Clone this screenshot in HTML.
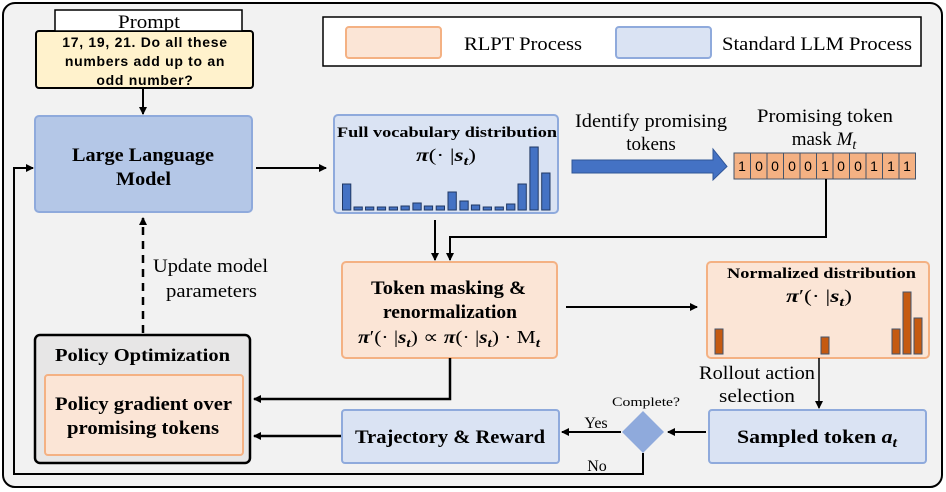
<!DOCTYPE html>
<html><head><meta charset="utf-8"><style>
html,body{margin:0;padding:0;background:#fff;}
svg{display:block;}
.s{font-family:"Liberation Serif",serif;}
.b{font-family:"Liberation Serif",serif;font-weight:bold;}
</style></head><body>
<svg width="946" height="492" viewBox="0 0 946 492" xmlns="http://www.w3.org/2000/svg">
<defs>
<marker id="a" markerWidth="8" markerHeight="8" refX="7" refY="4" orient="auto" markerUnits="userSpaceOnUse"><path d="M0,0 L8,4 L0,8 z" fill="#000"/></marker>
</defs>
<rect x="3" y="3" width="939" height="484" rx="12" fill="#f2f2f2" stroke="#000" stroke-width="2"/>
<!-- legend -->
<rect x="323" y="17" width="598" height="49" fill="#fff" stroke="#000" stroke-width="1.5"/>
<rect x="346" y="27" width="95" height="31" rx="3" fill="#fbe5d6" stroke="#f4b183" stroke-width="2"/>
<text x="464" y="50" class="s" font-size="19" textLength="118" lengthAdjust="spacingAndGlyphs">RLPT Process</text>
<rect x="616" y="27" width="95" height="31" rx="3" fill="#dae3f3" stroke="#8faadc" stroke-width="2"/>
<text x="722" y="50" class="s" font-size="19" textLength="190" lengthAdjust="spacingAndGlyphs">Standard LLM Process</text>
<!-- prompt -->
<rect x="36" y="31" width="217" height="57" rx="3" fill="#fff2cc" stroke="#000" stroke-width="2"/>
<rect x="55" y="10" width="187" height="21" fill="#fff" stroke="#000" stroke-width="1.5"/>
<text x="118" y="28" class="s" font-size="19" textLength="62" lengthAdjust="spacingAndGlyphs">Prompt</text>
<g font-family="Liberation Sans,sans-serif" font-weight="bold" font-size="14" text-anchor="middle" letter-spacing="0.7">
<text x="145" y="47">17, 19, 21. Do all these</text>
<text x="145" y="66">numbers add up to an</text>
<text x="145" y="85">odd number?</text>
</g>
<line x1="143" y1="88" x2="143" y2="114" stroke="#000" stroke-width="2" marker-end="url(#a)"/>
<!-- LLM -->
<rect x="35" y="116" width="217" height="96" rx="4" fill="#b4c7e7" stroke="#8faadc" stroke-width="2"/>
<text x="72" y="161" class="b" font-size="19" textLength="142" lengthAdjust="spacingAndGlyphs">Large Language</text>
<text x="116" y="185" class="b" font-size="19" textLength="55" lengthAdjust="spacingAndGlyphs">Model</text>
<line x1="256" y1="168" x2="326" y2="168" stroke="#000" stroke-width="2" marker-end="url(#a)"/>
<!-- full vocab -->
<rect x="334" y="115" width="224" height="98" rx="4" fill="#dae3f3" stroke="#8faadc" stroke-width="2"/>
<text x="337" y="137" class="b" font-size="15" textLength="220" lengthAdjust="spacingAndGlyphs">Full vocabulary distribution</text>
<text x="416" y="161" class="b" font-size="18" font-style="italic" textLength="60" lengthAdjust="spacingAndGlyphs">π<tspan font-style="normal" font-weight="normal">(· |</tspan>s<tspan font-size="13" dy="4">t</tspan><tspan dy="-4" font-style="normal" font-weight="normal">)</tspan></text>
<g fill="#4472c4" stroke="#203864" stroke-width="1">
<rect x="342.5" y="184" width="8.3" height="26"/>
<rect x="354" y="207" width="8.3" height="3"/>
<rect x="365.5" y="207" width="8.3" height="3"/>
<rect x="377.3" y="207" width="8.3" height="3"/>
<rect x="389.2" y="207" width="8.3" height="3"/>
<rect x="401" y="206" width="8.3" height="4"/>
<rect x="412.9" y="203" width="8.3" height="7"/>
<rect x="424.3" y="206" width="8.3" height="4"/>
<rect x="436.2" y="206" width="8.3" height="4"/>
<rect x="448" y="192" width="8.3" height="18"/>
<rect x="459.9" y="201" width="8.3" height="9"/>
<rect x="471.4" y="205" width="8.3" height="5"/>
<rect x="483.2" y="207" width="8.3" height="3"/>
<rect x="495.1" y="207" width="8.3" height="3"/>
<rect x="506.6" y="204" width="8.3" height="6"/>
<rect x="518" y="184" width="8.3" height="26"/>
<rect x="529.9" y="147" width="8.3" height="63"/>
<rect x="541.7" y="173" width="8.3" height="37"/>
</g>
<!-- blue arrow -->
<path d="M572,160 L713,160 L713,149 L727,166.5 L713,180 L713,173 L572,173 z" fill="#4472c4" stroke="#2f5597" stroke-width="1"/>
<text x="575" y="127" class="s" font-size="19" textLength="152" lengthAdjust="spacingAndGlyphs">Identify promising</text>
<text x="651" y="150" class="s" font-size="19" text-anchor="middle">tokens</text>
<text x="757" y="122" class="s" font-size="19" textLength="136" lengthAdjust="spacingAndGlyphs">Promising token</text>
<text x="824" y="145" class="s" font-size="19" text-anchor="middle">mask <tspan font-style="italic">M</tspan><tspan font-style="italic" font-size="14" dy="4">t</tspan></text>
<g font-family="Liberation Sans,sans-serif" font-size="14" text-anchor="middle">
<g fill="#f4b183" stroke="#44546a" stroke-width="1">
<rect x="734" y="153" width="16.5" height="26"/><rect x="750.5" y="153" width="16.5" height="26"/><rect x="767" y="153" width="16.5" height="26"/><rect x="783.5" y="153" width="16.5" height="26"/><rect x="800" y="153" width="16.5" height="26"/><rect x="816.5" y="153" width="16.5" height="26"/><rect x="833" y="153" width="16.5" height="26"/><rect x="849.5" y="153" width="16.5" height="26"/><rect x="866" y="153" width="16.5" height="26"/><rect x="882.5" y="153" width="16.5" height="26"/><rect x="899" y="153" width="16.5" height="26"/>
</g>
<text x="742" y="171">1</text><text x="759" y="171">0</text><text x="775" y="171">0</text><text x="792" y="171">0</text><text x="808" y="171">0</text><text x="825" y="171">1</text><text x="841" y="171">0</text><text x="858" y="171">0</text><text x="874" y="171">1</text><text x="891" y="171">1</text><text x="907" y="171">1</text>
</g>
<!-- connectors to masking -->
<path d="M826,179 L826,237 L450,237 L450,260" fill="none" stroke="#000" stroke-width="2" marker-end="url(#a)"/>
<line x1="435" y1="220" x2="435" y2="260" stroke="#000" stroke-width="2" marker-end="url(#a)"/>
<!-- token masking -->
<rect x="342" y="262" width="215" height="96" rx="4" fill="#fbe5d6" stroke="#f4b183" stroke-width="2"/>
<text x="371" y="294" class="b" font-size="19" textLength="155" lengthAdjust="spacingAndGlyphs">Token masking &amp;</text>
<text x="383" y="318" class="b" font-size="19" textLength="134" lengthAdjust="spacingAndGlyphs">renormalization</text>
<text x="358" y="343" class="b" font-size="18" font-style="italic" textLength="182" lengthAdjust="spacingAndGlyphs">π<tspan font-style="normal" font-weight="normal">′(· |</tspan>s<tspan font-size="13" dy="4">t</tspan><tspan dy="-4" font-style="normal" font-weight="normal">) ∝ </tspan>π<tspan font-style="normal" font-weight="normal">(· |</tspan>s<tspan font-size="13" dy="4">t</tspan><tspan dy="-4" font-style="normal" font-weight="normal">) · M</tspan><tspan font-size="13" dy="4">t</tspan></text>
<line x1="566" y1="307" x2="697" y2="307" stroke="#000" stroke-width="2" marker-end="url(#a)"/>
<!-- normalized -->
<rect x="707" y="262" width="222" height="96" rx="4" fill="#fbe5d6" stroke="#f4b183" stroke-width="2"/>
<text x="727" y="278" class="b" font-size="15" textLength="189" lengthAdjust="spacingAndGlyphs">Normalized distribution</text>
<text x="786" y="302" class="b" font-size="18" font-style="italic" textLength="66" lengthAdjust="spacingAndGlyphs">π<tspan font-style="normal" font-weight="normal">′(· |</tspan>s<tspan font-size="13" dy="4">t</tspan><tspan dy="-4" font-style="normal" font-weight="normal">)</tspan></text>
<g fill="#c55a11" stroke="#44546a" stroke-width="1">
<rect x="715" y="329" width="8" height="25"/>
<rect x="821" y="337" width="8" height="17"/>
<rect x="892" y="329" width="8" height="25"/>
<rect x="903" y="292" width="8" height="62"/>
<rect x="914" y="318" width="8" height="36"/>
</g>
<line x1="819" y1="358" x2="819" y2="408" stroke="#000" stroke-width="1.5" marker-end="url(#a)"/>
<text x="699" y="379" class="s" font-size="19" textLength="116" lengthAdjust="spacingAndGlyphs">Rollout action</text>
<text x="719" y="402" class="s" font-size="19" textLength="76" lengthAdjust="spacingAndGlyphs">selection</text>
<!-- sampled token -->
<rect x="709" y="410" width="217" height="53" rx="3" fill="#dae3f3" stroke="#8faadc" stroke-width="2"/>
<text x="737" y="443" class="b" font-size="19" textLength="160" lengthAdjust="spacingAndGlyphs">Sampled token <tspan font-style="italic">a</tspan><tspan font-style="italic" font-size="14" dy="4">t</tspan></text>
<line x1="706" y1="432" x2="668" y2="432" stroke="#000" stroke-width="2" marker-end="url(#a)"/>
<path d="M643,411 L664,432 L643,453 L622,432 z" fill="#8faadc"/>
<text x="612" y="406" class="s" font-size="13" textLength="68" lengthAdjust="spacingAndGlyphs">Complete?</text>
<line x1="621" y1="432" x2="562" y2="432" stroke="#000" stroke-width="2" marker-end="url(#a)"/>
<text x="596" y="428" class="s" font-size="16" text-anchor="middle">Yes</text>
<text x="597" y="471" class="s" font-size="16" text-anchor="middle">No</text>
<path d="M643,453 L643,474 L14,474 L14,168 L33,168" fill="none" stroke="#000" stroke-width="2" marker-end="url(#a)"/>
<!-- trajectory -->
<rect x="342" y="410" width="217" height="53" rx="3" fill="#dae3f3" stroke="#8faadc" stroke-width="2"/>
<text x="355" y="443" class="b" font-size="19" textLength="190" lengthAdjust="spacingAndGlyphs">Trajectory &amp; Reward</text>
<line x1="341" y1="436" x2="254" y2="436" stroke="#000" stroke-width="2.5" marker-end="url(#a)"/>
<path d="M450,358 L450,399 L254,399" fill="none" stroke="#000" stroke-width="2.5" marker-end="url(#a)"/>
<!-- policy optimization -->
<rect x="35" y="335" width="215" height="128" rx="5" fill="#e7e6e6" stroke="#000" stroke-width="2.5"/>
<text x="55" y="361" class="b" font-size="18" textLength="175" lengthAdjust="spacingAndGlyphs">Policy Optimization</text>
<rect x="45" y="375" width="198" height="80" rx="3" fill="#fbe5d6" stroke="#f4b183" stroke-width="2"/>
<text x="55" y="410" class="b" font-size="19" textLength="177" lengthAdjust="spacingAndGlyphs">Policy gradient over</text>
<text x="67" y="434" class="b" font-size="19" textLength="152" lengthAdjust="spacingAndGlyphs">promising tokens</text>
<!-- dashed update -->
<line x1="143" y1="333" x2="143" y2="218" stroke="#000" stroke-width="2.5" stroke-dasharray="8,6" marker-end="url(#a)"/>
<text x="153" y="272" class="s" font-size="19" textLength="115" lengthAdjust="spacingAndGlyphs">Update model</text>
<text x="166" y="297" class="s" font-size="19" textLength="91" lengthAdjust="spacingAndGlyphs">parameters</text>
</svg>
</body></html>
